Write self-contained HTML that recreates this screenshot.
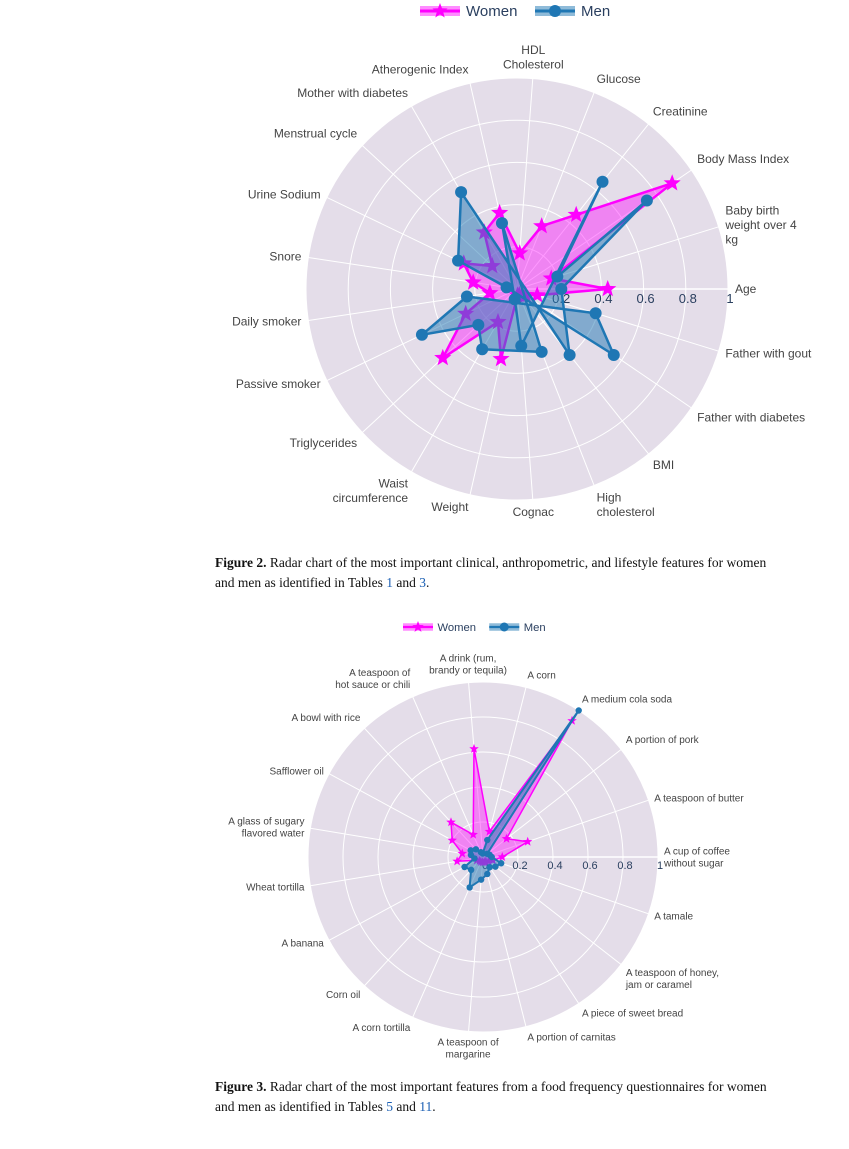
<!DOCTYPE html>
<html><head><meta charset="utf-8"><style>
body{margin:0;background:#fff;}
svg{display:block;font-family:"Liberation Sans",sans-serif;}
.cap{font-family:"Liberation Serif",serif;font-size:13.5px;fill:#111;}
</style></head><body>
<svg id="root" width="849" height="1149" viewBox="0 0 849 1149">
<g id="c1"></g>
<g id="c2"></g>
<text class="cap" x="215" y="567"><tspan font-weight="bold">Figure 2.</tspan> Radar chart of the most important clinical, anthropometric, and lifestyle features for women</text>
<text class="cap" x="215" y="587">and men as identified in Tables <tspan fill="#1a5fb4">1</tspan> and <tspan fill="#1a5fb4">3</tspan>.</text>
<text class="cap" x="215" y="1091"><tspan font-weight="bold">Figure 3.</tspan> Radar chart of the most important features from a food frequency questionnaires for women</text>
<text class="cap" x="215" y="1111">and men as identified in Tables <tspan fill="#1a5fb4">5</tspan> and <tspan fill="#1a5fb4">11</tspan>.</text>
</svg>
<script>
// ---- Chart 1 data ----
const cats1 = ["Age","Baby birth\nweight over 4\nkg","Body Mass Index","Creatinine","Glucose","HDL\nCholesterol","Atherogenic Index","Mother with diabetes","Menstrual cycle","Urine Sodium","Snore","Daily smoker","Passive smoker","Triglycerides","Waist\ncircumference","Weight","Cognac","High\ncholesterol","BMI","Father with diabetes","Father with gout"];
const women1Idx = [0,1,2,3,4,5,6,7,8,9,10,11,12,13,14,15,16,17,18,19,20];
const women1Val = [0.43,0.17,0.89,0.45,0.32,0.17,0.37,0.31,0.16,0.28,0.21,0.13,0.27,0.48,0.18,0.34,0.03,0.03,0.04,0.05,0.1];
const men1Idx = [0,2,1,3,16,15,6,17,14,13,12,11,20,19,10,9,7,18];
const men1Val = [0.21,0.745,0.2,0.65,0.27,0.05,0.32,0.32,0.33,0.25,0.5,0.24,0.39,0.555,0.05,0.31,0.53,0.4];
const ticks1 = ["0","0.2","0.4","0.6","0.8","1"];
// ---- Chart 2 data ----
const cats2 = ["A cup of coffee\nwithout sugar","A teaspoon of butter","A portion of pork","A medium cola soda","A corn","A drink (rum,\nbrandy or tequila)","A teaspoon of\nhot sauce or chili","A bowl with rice","Safflower oil","A glass of sugary\nflavored water","Wheat tortilla","A banana","Corn oil","A corn tortilla","A teaspoon of\nmargarine","A portion of carnitas","A piece of sweet bread","A teaspoon of honey,\njam or caramel","A tamale"];
const women2Val = [0.11,0.27,0.17,0.93,0.15,0.62,0.14,0.27,0.2,0.12,0.15,0.04,0.03,0.03,0.03,0.03,0.03,0.04,0.06];
const men2Val = [0.05,0.04,0.03,1.0,0.1,0.02,0.03,0.06,0.08,0.07,0.05,0.12,0.1,0.19,0.13,0.1,0.07,0.09,0.11];
const ticks2 = ["0","0.2","0.4","0.6","0.8","1"];

const NS="http://www.w3.org/2000/svg";
function mk(p,t,a){const e=document.createElementNS(NS,t);for(const k in a)e.setAttribute(k,a[k]);p.appendChild(e);return e;}
function starPath(x,y,r){let d="";for(let i=0;i<10;i++){const a=-Math.PI/2+i*Math.PI/5;const rr=i%2?r*0.42:r;d+=(i?"L":"M")+(x+rr*Math.cos(a)).toFixed(1)+","+(y+rr*Math.sin(a)).toFixed(1);}return d+"Z";}

function radar(g,o){
  const {cx,cy,R,cats,fs,labOff,tickFs}=o;
  const n=cats.length;
  const ang=i=>i*2*Math.PI/n;
  const pt=(i,v)=>[cx+R*v*Math.cos(ang(i)),cy-R*v*Math.sin(ang(i))];
  const bg=mk(g,"circle",{cx,cy,r:R,fill:"#e4dde9"});
  
  
  for(let k=1;k<=5;k++){
    const c=mk(g,"circle",{cx,cy,r:R*k/5,fill:"none",stroke:"#fff","stroke-width":1});
    
    
  }
  cats.forEach((c,i)=>{
    const [x,y]=pt(i,1);
    const l=mk(g,"line",{x1:cx,y1:cy,x2:x,y2:y,stroke:"#fff","stroke-width":1});
    
    
    const a=ang(i),co=Math.cos(a),si=Math.sin(a);
    const px=cx+(R+labOff)*co,py=cy-(R+labOff)*si;
    const lines=c.split("\n");const lh=fs*1.2;
    const anchor=co>0.15?"start":(co<-0.15?"end":"middle");
    let y0;
    if(si>0.5) y0=py-(lines.length-1)*lh-3;
    else if(si<-0.5) y0=py+fs*0.8;
    else y0=py-(lines.length-1)*lh/2+fs*0.35;
    const t=mk(g,"text",{x:px,y:y0,"font-size":fs,fill:"#444","text-anchor":anchor});
    
    
    lines.forEach((s,j)=>{const ts=mk(t,"tspan",{x:px,y:y0+j*lh});ts.textContent=s;});
  });
  const ax=mk(g,"line",{x1:cx,y1:cy,x2:cx+R,y2:cy,stroke:"#fff","stroke-width":1.5});
  
  
  o.ticks.forEach((s,k)=>{
    const t=mk(g,"text",{x:cx+R*k/5+2,y:cy+tickFs+1,"font-size":tickFs,fill:"#2a3f5f","text-anchor":"middle"});
    
    
    t.textContent=s;
  });
  return pt;
}
function series(g,pt,idx,vals,color,fill,lw,marker,ms,name){
  const pts=idx.map((i,k)=>pt(i,vals[k]));
  const d=pts.map((p,k)=>(k?"L":"M")+p[0].toFixed(1)+","+p[1].toFixed(1)).join("")+"Z";
  const s=mk(g,"path",{d,fill,stroke:color,"stroke-width":lw,"stroke-linejoin":"round"});
  
  
  pts.forEach(p=>{
    let m;
    if(marker==="star") m=mk(g,"path",{d:starPath(p[0],p[1],ms),fill:color});
    else m=mk(g,"circle",{cx:p[0],cy:p[1],r:ms,fill:color});
    
    
  });
}
function legend(g,x,y,sc){
  const items=[["Women","#ff00ff","rgba(255,0,255,0.45)","star"],["Men","#1f77b4","rgba(31,119,180,0.5)","circle"]];
  let xx=x;
  items.forEach(([nm,c,f,mkr])=>{
    const lg=mk(g,"g",{});
    
    
    mk(lg,"rect",{x:xx,y:y-5*sc,width:40*sc,height:10*sc,fill:f});
    mk(lg,"line",{x1:xx,y1:y,x2:xx+40*sc,y2:y,stroke:c,"stroke-width":3*sc});
    if(mkr==="star") mk(lg,"path",{d:starPath(xx+20*sc,y,8*sc),fill:c});
    else mk(lg,"circle",{cx:xx+20*sc,cy:y,r:6*sc,fill:c});
    const t=mk(lg,"text",{x:xx+46*sc,y:y+5*sc,"font-size":15*sc,fill:"#2a3f5f"});
    t.textContent=nm;
    xx+= nm==="Women"?115*sc:0;
  });
}
// chart 1
const g1=document.getElementById("c1");
const p1=radar(g1,{cx:517,cy:289,R:211,cats:cats1,fs:12,labOff:7,tickFs:13,ticks:ticks1});
series(g1,p1,women1Idx,women1Val,"#ff00ff","rgba(255,0,255,0.4)",2.5,"star",9,"women");
series(g1,p1,men1Idx,men1Val,"#1f77b4","rgba(31,119,180,0.5)",2.5,"circle",6,"men");
legend(g1,420,11,1);
// chart 2
const g2=document.getElementById("c2");
const idx2=cats2.map((c,i)=>i);
const p2=radar(g2,{cx:483,cy:857,R:175,cats:cats2,fs:10,labOff:6,tickFs:11,ticks:ticks2});
series(g2,p2,idx2,women2Val,"#ff00ff","rgba(255,0,255,0.4)",1.5,"star",5,"women");
series(g2,p2,idx2,men2Val,"#1f77b4","rgba(31,119,180,0.5)",2,"circle",3.2,"men");
legend(g2,403,627,0.75);
</script>
</body></html>
